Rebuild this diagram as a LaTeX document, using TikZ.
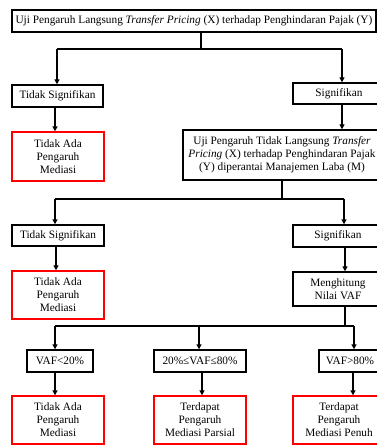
\documentclass[tikz,border=0pt]{standalone}
\usepackage{fontspec}
\setmainfont{Liberation Serif}
\usetikzlibrary{arrows.meta}
\begin{document}
\begin{tikzpicture}[x=1pt,y=-1pt,
  box/.style={draw=black, line width=1.4pt, inner sep=0pt, align=center,
    font=\fontsize{11.3}{13}\selectfont},
  redbox/.style={box, draw=red},
  conn/.style={line width=1.4pt},
  arr/.style={conn, -{Triangle[length=5pt,width=5pt]}}]
\useasboundingbox (0,0) rectangle (377,445);
\clip (0,0) rectangle (377,445);
% boxes
\node[box, minimum width=364pt, minimum height=22pt] (top) at (194,21)
  {Uji Pengaruh Langsung \textit{Transfer Pricing} (X) terhadap Penghindaran Pajak (Y)};
\node[box, minimum width=91pt, minimum height=22pt] (ts1) at (57.5,96) {Tidak Signifikan};
\node[box, minimum width=92pt, minimum height=21pt] (sig1) at (339,93.5) {Signifikan};
\node[redbox, minimum width=92pt, minimum height=49pt] (red1) at (58,156.5)
  {Tidak Ada\\Pengaruh\\Mediasi};
\node[box, minimum width=198pt, minimum height=50pt] (box2) at (282,155)
  {Uji Pengaruh Tidak Langsung \textit{Transfer}\\\textit{Pricing} (X) terhadap Penghindaran Pajak\\(Y) diperantai Manajemen Laba (M)};
\node[box, minimum width=92pt, minimum height=21pt] (ts2) at (58,235.5) {Tidak Signifikan};
\node[box, minimum width=90pt, minimum height=22pt] (sig2) at (338,236) {Signifikan};
\node[redbox, minimum width=92pt, minimum height=48pt] (red2) at (58,295)
  {Tidak Ada\\Pengaruh\\Mediasi};
\node[box, minimum width=90pt, minimum height=34pt] (vaf) at (338,289)
  {Menghitung\\Nilai VAF};
\node[box, minimum width=66pt, minimum height=22pt] (b1) at (60,361) {VAF<20\%};
\node[box, minimum width=92pt, minimum height=22pt] (b2) at (200,361) {20\%≤VAF≤80\%};
\node[box, minimum width=62pt, minimum height=22pt] (b3) at (350,361) {VAF>80\%};
\node[redbox, minimum width=92pt, minimum height=48pt] (red3) at (58,420)
  {Tidak Ada\\Pengaruh\\Mediasi};
\node[redbox, minimum width=92pt, minimum height=48pt] (red4) at (200,420)
  {Terdapat\\Pengaruh\\Mediasi Parsial};
\node[redbox, minimum width=92pt, minimum height=48pt] (red5) at (339,420)
  {Terdapat\\Pengaruh\\Mediasi Penuh};
% junctions
\coordinate (j1) at (201,49);
\coordinate (j1l) at (57,49);
\coordinate (j1r) at (342,49);
\coordinate (j2) at (282,199);
\coordinate (j2l) at (55,199);
\coordinate (j2r) at (344,199);
\coordinate (j3) at (345,326);
\coordinate (j3l) at (55,326);
\coordinate (j3m) at (199,326);
\coordinate (j3r) at (354,326);
% connectors
\draw[conn] (top.south -| j1) -- (j1);
\draw[conn] (j1l) -- (j1r);
\draw[arr] (j1l) -- (j1l |- ts1.north);
\draw[arr] (j1r) -- (j1r |- sig1.north);
\draw[arr] (ts1.south -| 55,0) -- (red1.north -| 55,0);
\draw[arr] (sig1.south -| j1r) -- (box2.north -| j1r);
\draw[conn] (box2.south -| j2) -- (j2);
\draw[conn] (j2l) -- (j2r);
\draw[arr] (j2l) -- (j2l |- ts2.north);
\draw[arr] (j2r) -- (j2r |- sig2.north);
\draw[arr] (ts2.south -| 56,0) -- (red2.north -| 56,0);
\draw[arr] (sig2.south -| j3) -- (vaf.north -| j3);
\draw[conn] (vaf.south -| j3) -- (j3);
\draw[conn] (j3l) -- (j3r);
\draw[arr] (j3l) -- (j3l |- b1.north);
\draw[arr] (j3m) -- (j3m |- b2.north);
\draw[arr] (j3r) -- (j3r |- b3.north);
\draw[arr] (b1.south -| j3l) -- (red3.north -| j3l);
\draw[arr] (b2.south -| 202,0) -- (red4.north -| 202,0);
\draw[arr] (b3.south -| 353,0) -- (red5.north -| 353,0);
\end{tikzpicture}
\end{document}
